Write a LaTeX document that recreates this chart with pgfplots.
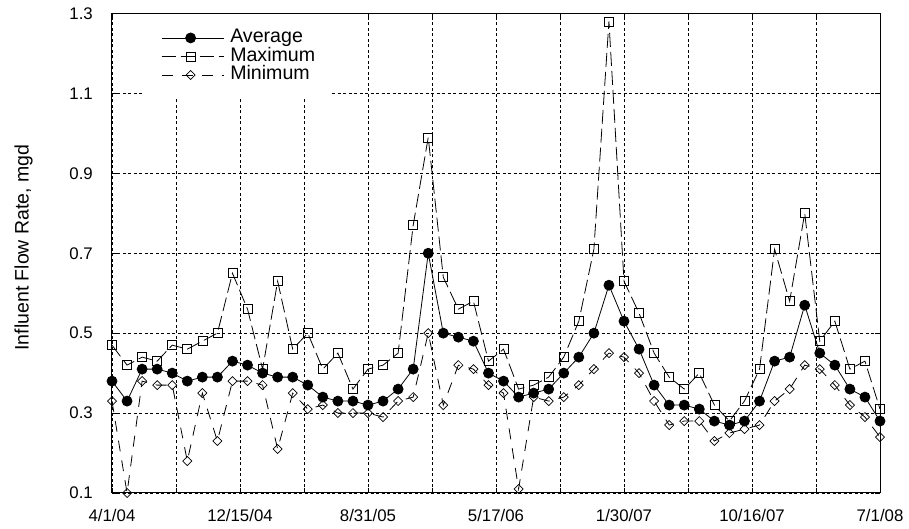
\documentclass[border=0pt]{standalone}
\usepackage{fontspec}
\setmainfont{Liberation Sans}
\usepackage{pgfplots}
\usepackage{pgfplotstable}
\pgfplotsset{compat=1.18}

% monthly values, m = months since 4/1/04
\pgfplotstableread{
m  avg  max  min
0  0.38 0.47 0.33
1  0.33 0.42 0.10
2  0.41 0.44 0.38
3  0.41 0.43 0.37
4  0.40 0.47 0.37
5  0.38 0.46 0.18
6  0.39 0.48 0.35
7  0.39 0.50 0.23
8  0.43 0.65 0.38
9  0.42 0.56 0.38
10 0.40 0.41 0.37
11 0.39 0.63 0.21
12 0.39 0.46 0.35
13 0.37 0.50 0.31
14 0.34 0.41 0.32
15 0.33 0.45 0.30
16 0.33 0.36 0.30
17 0.32 0.41 0.30
18 0.33 0.42 0.29
19 0.36 0.45 0.33
20 0.41 0.77 0.34
21 0.70 0.99 0.50
22 0.50 0.64 0.32
23 0.49 0.56 0.42
24 0.48 0.58 0.41
25 0.40 0.43 0.37
26 0.38 0.46 0.35
27 0.34 0.36 0.11
28 0.35 0.37 0.34
29 0.36 0.39 0.33
30 0.40 0.44 0.34
31 0.44 0.53 0.37
32 0.50 0.71 0.41
33 0.62 1.28 0.45
34 0.53 0.63 0.44
35 0.46 0.55 0.40
36 0.37 0.45 0.33
37 0.32 0.39 0.27
38 0.32 0.36 0.28
39 0.31 0.40 0.28
40 0.28 0.32 0.23
41 0.27 0.28 0.25
42 0.28 0.33 0.26
43 0.33 0.41 0.27
44 0.43 0.71 0.33
45 0.44 0.58 0.36
46 0.57 0.80 0.42
47 0.45 0.48 0.41
48 0.42 0.53 0.37
49 0.36 0.41 0.32
50 0.34 0.43 0.29
51 0.28 0.31 0.24
}\flow

\begin{document}
\begin{tikzpicture}
\begin{axis}[
    name=ax,
    scale only axis,
    width=768pt, height=479.5pt,
    xmin=0, xmax=51,
    ymin=0.1, ymax=1.3,
    xtick={0,4.25,8.5,12.75,17,21.25,25.5,29.75,34,38.25,42.5,46.75,51},
    xticklabels={4/1/04,,12/15/04,,8/31/05,,5/17/06,,1/30/07,,10/16/07,,7/1/08},
    ytick={0.1,0.3,0.5,0.7,0.9,1.1,1.3},
    grid=major,
    grid style={black, line width=0.6pt, dash pattern=on 3pt off 2.5pt},
    axis line style={line width=1pt},
    tick align=inside,
    major tick length=5pt,
    tick style={black, line width=0.8pt},
    tick label style={font=\fontsize{16.8}{20}\selectfont, inner sep=0pt},
    /pgf/number format/assume math mode=true,
    y tick label style={xshift=-19pt, /pgf/number format/fixed,
        /pgf/number format/precision=1, /pgf/number format/fixed zerofill},
    x tick label style={yshift=-16pt},
    ylabel={Influent Flow Rate, mgd},
    ylabel style={at={(axis description cs:-0.103,0.512)}, anchor=south,
        inner sep=0pt, font=\fontsize{19.5}{22}\selectfont},
    legend style={at={(axis description cs:0.043,1)}, anchor=north west,
        draw=none, fill=white, inner xsep=16pt, inner ysep=15pt,
        font=\fontsize{19.6}{19.6}\selectfont,
        nodes={text height=14pt, text depth=4pt, inner sep=0.25pt},
        /tikz/every odd column/.style={column sep=6pt}},
    legend cell align=left,
    legend image code/.code={
        \draw[mark repeat=2,mark phase=2,#1]
            plot coordinates {(0pt,0pt) (29pt,0pt) (62pt,0pt)};},
    reverse legend,
]
\addplot[black, line width=0.8pt, dash pattern=on 11pt off 9pt,
    mark=square, mark size=3.2pt,
    mark options={solid, fill=white, rotate=45, line width=0.7pt}]
    table[x=m, y=min] {\flow};
\addlegendentry{Minimum}

\addplot[black, line width=0.8pt, dash pattern=on 14pt off 5pt,
    mark=square, mark size=4.5pt,
    mark options={solid, fill=white, line width=0.7pt}]
    table[x=m, y=max] {\flow};
\addlegendentry{Maximum}

\addplot[black, line width=0.8pt, mark=*, mark size=5pt,
    mark options={solid, fill=black}]
    table[x=m, y=avg] {\flow};
\addlegendentry{Average}
\end{axis}
\pgfresetboundingbox
\path ([shift={(-112pt,-36pt)}]ax.south west) rectangle ([shift={(29pt,13.5pt)}]ax.north east);
\end{tikzpicture}
\end{document}
